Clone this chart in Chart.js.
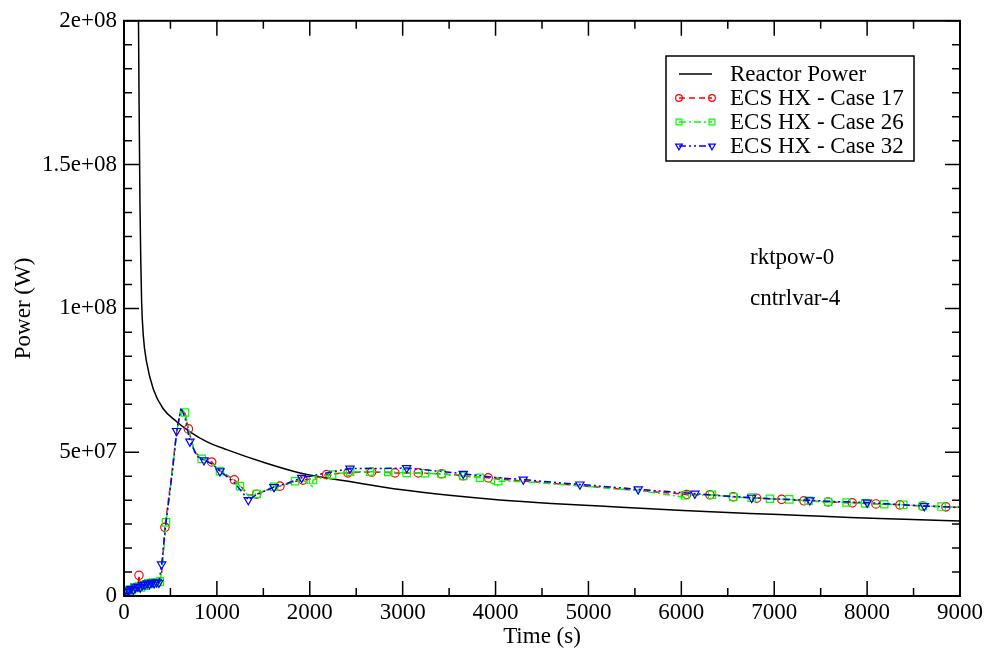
<!DOCTYPE html>
<html>
<head>
<meta charset="utf-8">
<title>Reactor power vs ECS HX</title>
<script src="https://cdn.jsdelivr.net/npm/chart.js@4.4.1/dist/chart.umd.min.js"></script>
<style>
  html, body { margin: 0; padding: 0; background: #fff; }
  canvas { display: block; }
</style>
</head>
<body>
<canvas id="chart" width="987" height="653"></canvas>
<script>
// axis ticks
const xTicks = [0, 1000, 2000, 3000, 4000, 5000, 6000, 7000, 8000, 9000];
const yTicks = [0, 5e7, 1e8, 1.5e8, 2e8];
const yTickLabels = ['0', '5e+07', '1e+08', '1.5e+08', '2e+08'];
const seriesNames = ['Reactor Power', 'ECS HX - Case 17', 'ECS HX - Case 26', 'ECS HX - Case 32'];
const noteLines = ['rktpow-0', 'cntrlvar-4'];

// Reactor Power (W)
const reactorTime = [150, 156, 164, 172, 181, 190, 208, 244, 315, 420, 567, 710, 900, 1105, 1500,
  1895, 2540, 2971, 3500, 4047, 4600, 5124, 5662, 6200, 6738, 7300, 7815, 8400, 9000];
const reactorPower = [2.4e8, 2.0e8, 1.65e8, 1.36e8, 1.16e8, 1.02e8, 9.05e7, 8.12e7, 7.2e7, 6.52e7, 6.06e7, 5.71e7, 5.35e7, 5.09e7, 4.65e7,
  4.28e7, 3.92e7, 3.70e7, 3.50e7, 3.34e7, 3.22e7, 3.13e7, 3.03e7, 2.95e7, 2.87e7, 2.80e7, 2.73e7, 2.67e7, 2.61e7];

// ECS HX - Case 17
const c17Time = [0, 40, 80, 120, 150, 161, 172, 220, 270, 320, 370, 400, 441, 520, 567, 614, 657, 693, 760, 850,
  944, 1033, 1188, 1249, 1340, 1428, 1615, 1679, 1841, 1927, 2035, 2182, 2300, 2411, 2540, 2666, 2800, 2917, 3043, 3168,
  3300, 3420, 3540, 3652, 3780, 3921, 4050, 4300, 4900, 5536, 6057, 6308, 6559, 6811, 7080, 7320, 7581, 7840, 8095, 8353,
  8600, 8848, 9000];
const c17Power = [0, 1.5e6, 2.2e6, 2.8e6, 3.2e6, 7.2e6, 3.3e6, 3.8e6, 4.5e6, 4.8e6, 4.6e6, 5.5e6, 2.39e7, 4.4e7, 5.7e7, 6.5e7, 6.35e7, 5.81e7, 5.0e7, 4.75e7,
  4.66e7, 4.36e7, 4.04e7, 3.85e7, 3.5e7, 3.54e7, 3.78e7, 3.82e7, 3.98e7, 4.03e7, 4.08e7, 4.22e7, 4.26e7, 4.28e7, 4.30e7, 4.31e7, 4.30e7, 4.28e7, 4.28e7, 4.28e7,
  4.26e7, 4.25e7, 4.22e7, 4.18e7, 4.14e7, 4.11e7, 4.06e7, 4.00e7, 3.84e7, 3.67e7, 3.53e7, 3.52e7, 3.45e7, 3.40e7, 3.36e7, 3.31e7, 3.27e7, 3.24e7, 3.20e7, 3.17e7,
  3.13e7, 3.10e7, 3.08e7];
const c17Marks = [161, 441, 693, 944, 1188, 1428, 1679, 1927, 2182, 2411, 2666, 2917, 3168, 3420, 3652, 3921,
  6057, 6308, 6559, 6811, 7080, 7320, 7581, 7840, 8095, 8353, 8600, 8848];

// ECS HX - Case 26
const c26Time = [0, 10, 35, 60, 85, 110, 135, 160, 185, 210, 235, 260, 285, 310, 335, 360, 385, 410, 452, 520,
  567, 614, 657, 693, 760, 836, 944, 1033, 1188, 1249, 1340, 1428, 1615, 1679, 1841, 1927, 2028, 2035, 2240, 2433,
  2648, 2845, 3043, 3240, 3420, 3652, 3832, 4020, 4029, 4300, 4900, 5536, 6030, 6040, 6330, 6559, 6757, 6954, 7162, 7370,
  7581, 7779, 7980, 8184, 8389, 8600, 8802, 9000];
const c26Power = [0, 0.8e6, 1.5e6, 2.2e6, 2.0e6, 3.0e6, 2.8e6, 3.3e6, 3.0e6, 3.8e6, 3.6e6, 4.4e6, 4.2e6, 4.7e6, 4.5e6, 4.8e6, 5.0e6, 9.0e6, 2.56e7, 4.3e7,
  5.7e7, 6.5e7, 6.38e7, 5.8e7, 5.0e7, 4.77e7, 4.62e7, 4.34e7, 4.02e7, 3.82e7, 3.48e7, 3.55e7, 3.80e7, 3.83e7, 3.99e7, 4.02e7, 3.82e7, 4.03e7, 4.22e7, 4.32e7,
  4.32e7, 4.31e7, 4.28e7, 4.27e7, 4.24e7, 4.17e7, 4.11e7, 3.84e7, 3.99e7, 3.98e7, 3.83e7, 3.67e7, 3.44e7, 3.50e7, 3.52e7, 3.44e7, 3.42e7, 3.38e7, 3.36e7, 3.31e7,
  3.27e7, 3.25e7, 3.22e7, 3.19e7, 3.17e7, 3.13e7, 3.11e7, 3.08e7];
const c26Marks = [10, 35, 60, 85, 110, 135, 160, 185, 210, 235, 260, 285, 310, 335, 360, 385,
  452, 657, 836, 1033, 1249, 1428, 1615, 1841, 2035, 2240, 2433, 2648, 2845, 3043, 3240, 3420, 3652, 3832, 4029,
  6040, 6330, 6559, 6757, 6954, 7162, 7370, 7581, 7779, 7980, 8184, 8389, 8600, 8802];

// ECS HX - Case 32
const c32Time = [0, 25, 50, 75, 100, 125, 150, 175, 200, 225, 250, 275, 300, 325, 350, 375, 405, 450, 520, 567,
  614, 657, 710, 790, 861, 944, 1033, 1188, 1338, 1428, 1615, 1760, 1913, 2180, 2433, 2700, 3043, 3350, 3652, 4000,
  4298, 4600, 4908, 5200, 5536, 5850, 6146, 6450, 6757, 7050, 7384, 7700, 8001, 8300, 8615, 9000];
const c32Power = [0, 1.5e6, 2.0e6, 2.5e6, 2.2e6, 3.0e6, 3.3e6, 3.0e6, 3.8e6, 4.0e6, 4.4e6, 4.2e6, 4.7e6, 4.5e6, 4.8e6, 4.6e6, 1.1e7, 2.5e7, 4.3e7, 5.74e7,
  6.55e7, 6.2e7, 5.37e7, 4.85e7, 4.72e7, 4.6e7, 4.34e7, 3.95e7, 3.34e7, 3.52e7, 3.79e7, 3.92e7, 4.11e7, 4.28e7, 4.43e7, 4.43e7, 4.45e7, 4.35e7, 4.25e7, 4.12e7,
  4.05e7, 3.96e7, 3.88e7, 3.80e7, 3.71e7, 3.63e7, 3.56e7, 3.48e7, 3.42e7, 3.37e7, 3.33e7, 3.28e7, 3.25e7, 3.19e7, 3.13e7, 3.08e7];
const c32Marks = [0, 25, 50, 75, 100, 125, 150, 175, 200, 225, 250, 275, 300, 325, 350, 375, 405,
  567, 710, 861, 1033, 1338, 1615, 1913, 2433, 3043, 3652, 4298, 4908, 5536, 6146, 6757, 7384, 8001, 8615];

const FONT = "'Liberation Serif', 'Times New Roman', serif";

const styles = [
  { color: '#000000', dash: [], marker: null },
  { color: '#ff0000', dash: [6, 4], marker: 'circle', radius: 4.2 },
  { color: '#00ff00', dash: [7, 3, 2, 3], marker: 'rect', radius: 5.2 },
  { color: '#0000ff', dash: [7, 3, 2, 3, 2, 3], marker: 'triangle', radius: 4.8 }
];

function toPoints(time, power) {
  return time.map((t, i) => ({ x: t, y: power[i] }));
}

function ecsSeries(idx, time, power, marks, order) {
  const s = styles[idx];
  const marked = new Set(marks);
  return {
    label: seriesNames[idx],
    order: order,
    data: toPoints(time, power),
    borderColor: s.color,
    borderWidth: 1.5,
    borderDash: s.dash,
    tension: 0,
    fill: false,
    pointStyle: s.marker,
    pointRotation: s.marker === 'triangle' ? 180 : 0,
    pointRadius: c => (c.raw && marked.has(c.raw.x)) ? s.radius : 0,
    pointHoverRadius: 0,
    pointBorderColor: s.color,
    pointBackgroundColor: 'rgba(0,0,0,0)',
    pointBorderWidth: 1.2
  };
}

function drawMarker(ctx, type, x, y, r) {
  ctx.beginPath();
  if (type === 'circle') {
    ctx.arc(x, y, r, 0, Math.PI * 2);
  } else if (type === 'rect') {
    const h = r * Math.SQRT1_2;
    ctx.rect(x - h, y - h, 2 * h, 2 * h);
  } else if (type === 'triangle') {
    // pointing down
    ctx.moveTo(x, y + r);
    ctx.lineTo(x - r * 0.866, y - r * 0.5);
    ctx.lineTo(x + r * 0.866, y - r * 0.5);
    ctx.closePath();
  }
  ctx.stroke();
}

// frame, inward ticks, legend box and notes
const decorPlugin = {
  id: 'decor',
  afterDatasetsDraw(chart) {
    const { ctx, chartArea: a, scales: { x, y } } = chart;
    ctx.save();
    ctx.strokeStyle = '#000';
    ctx.setLineDash([]);

    ctx.lineWidth = 1.5;
    ctx.beginPath();
    for (let t = 0; t <= 9000; t += 500) {
      const px = x.getPixelForValue(t);
      const len = t % 1000 === 0 ? 15 : 8;
      ctx.moveTo(px, a.bottom); ctx.lineTo(px, a.bottom - len);
      ctx.moveTo(px, a.top); ctx.lineTo(px, a.top + len);
    }
    const minor = 5e7 / 6;
    for (let i = 0; i <= 24; i++) {
      const py = y.getPixelForValue(i * minor);
      const len = i % 6 === 0 ? 15 : 8;
      ctx.moveTo(a.left, py); ctx.lineTo(a.left + len, py);
      ctx.moveTo(a.right, py); ctx.lineTo(a.right - len, py);
    }
    ctx.stroke();

    ctx.lineWidth = 2;
    ctx.strokeRect(a.left, a.top, a.right - a.left, a.bottom - a.top);

    // legend
    const box = { x: 666, y: 56, w: 248, h: 105 };
    ctx.fillStyle = '#fff';
    ctx.fillRect(box.x, box.y, box.w, box.h);
    ctx.lineWidth = 1.5;
    ctx.strokeRect(box.x, box.y, box.w, box.h);
    ctx.font = '23px ' + FONT;
    ctx.textBaseline = 'middle';
    ctx.textAlign = 'left';
    seriesNames.forEach((name, i) => {
      const s = styles[i];
      const ry = 74 + i * 24;
      ctx.strokeStyle = s.color;
      ctx.lineWidth = 1.5;
      ctx.setLineDash(s.dash);
      ctx.beginPath();
      ctx.moveTo(679, ry); ctx.lineTo(712, ry);
      ctx.stroke();
      ctx.setLineDash([]);
      if (s.marker) {
        ctx.lineWidth = 1.2;
        drawMarker(ctx, s.marker, 679, ry, s.radius * 0.8);
        drawMarker(ctx, s.marker, 712, ry, s.radius * 0.8);
      }
      ctx.fillStyle = '#000';
      ctx.fillText(name, 730, ry + 1);
    });

    // notes
    noteLines.forEach((txt, i) => {
      ctx.fillText(txt, 750, 258 + i * 41);
    });
    ctx.restore();
  }
};

const tickFont = { family: FONT, size: 23 };

new Chart(document.getElementById('chart'), {
  type: 'line',
  data: {
    datasets: [
      {
        label: seriesNames[0],
        order: 4,
        data: toPoints(reactorTime, reactorPower),
        borderColor: styles[0].color,
        borderWidth: 1.5,
        pointRadius: 0,
        pointHoverRadius: 0,
        cubicInterpolationMode: 'monotone',
        fill: false
      },
      ecsSeries(1, c17Time, c17Power, c17Marks, 3),
      ecsSeries(2, c26Time, c26Power, c26Marks, 2),
      ecsSeries(3, c32Time, c32Power, c32Marks, 1)
    ]
  },
  options: {
    responsive: false,
    animation: false,
    devicePixelRatio: 1,
    layout: { padding: { top: 15, right: 27, left: 0, bottom: 0 } },
    plugins: {
      legend: { display: false },
      tooltip: { enabled: false }
    },
    scales: {
      x: {
        type: 'linear',
        min: 0,
        max: 9000,
        afterBuildTicks: s => { s.ticks = xTicks.map(v => ({ value: v })); },
        afterFit: s => { s.height = 57; },
        grid: { display: false, drawTicks: false },
        border: { display: false },
        ticks: {
          color: '#000',
          font: tickFont,
          padding: 3,
          maxRotation: 0,
          autoSkip: false,
          callback: v => String(v)
        },
        title: {
          display: true,
          text: 'Time (s)',
          color: '#000',
          font: { family: FONT, size: 23, lineHeight: 1 },
          padding: { top: 0, bottom: 5 }
        }
      },
      y: {
        type: 'linear',
        min: 0,
        max: 2e8,
        afterBuildTicks: s => { s.ticks = yTicks.map(v => ({ value: v })); },
        afterFit: s => { s.width = 124; },
        grid: { display: false, drawTicks: false },
        border: { display: false },
        ticks: {
          color: '#000',
          font: tickFont,
          padding: 7,
          autoSkip: false,
          callback: v => yTickLabels[yTicks.indexOf(v)]
        },
        title: {
          display: true,
          text: 'Power (W)',
          color: '#000',
          font: { family: FONT, size: 23 },
          padding: { top: 10, bottom: 0 }
        }
      }
    }
  },
  plugins: [decorPlugin]
});
</script>
</body>
</html>
